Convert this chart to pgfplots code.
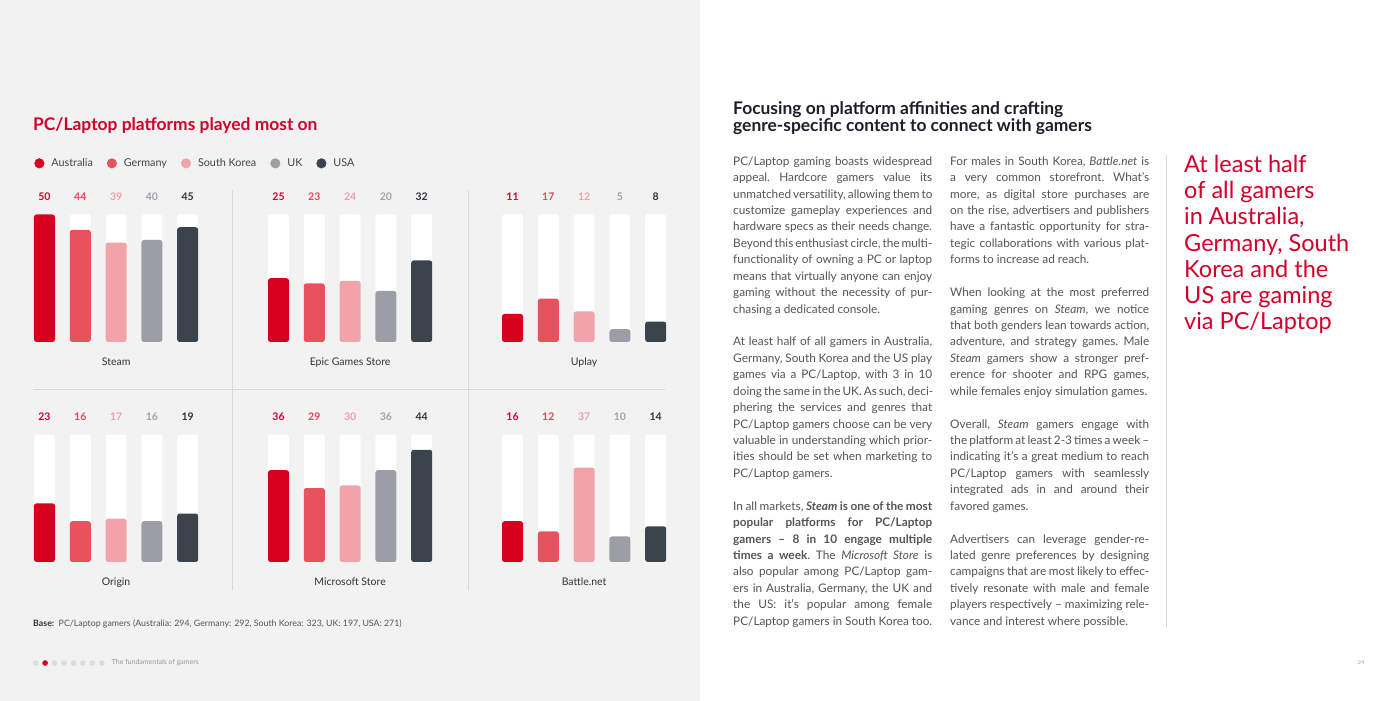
\documentclass[border=0pt]{standalone}
\usepackage{fontspec}
\setmainfont{Lato}
\usepackage{pgfplots}
\pgfplotsset{compat=1.18}
\usepackage{pgfplotstable}

\definecolor{pagebg}{HTML}{F2F2F2}
\definecolor{titlered}{HTML}{D2002B}
\definecolor{aus}{HTML}{D7001F}
\definecolor{ger}{HTML}{E8525F}
\definecolor{sk}{HTML}{F2A2A9}
\definecolor{uk}{HTML}{9B9EA4}
\definecolor{usa}{HTML}{3B444D}
\definecolor{ausL}{HTML}{D2002B}
\definecolor{gerL}{HTML}{E0485A}
\definecolor{skL}{HTML}{F0A0A8}
\definecolor{ukL}{HTML}{A0A3A8}
\definecolor{usaL}{HTML}{2E353D}
\definecolor{body}{HTML}{555555}
\definecolor{head}{HTML}{1E1E2A}
\definecolor{rule}{HTML}{D9D9D9}
\definecolor{labgray}{HTML}{333333}
\definecolor{leggray}{HTML}{444444}
\definecolor{dotgray}{HTML}{DCDCDC}

% share of PC/Laptop gamers (%), top row: Steam, Epic Games Store, Uplay
\pgfplotstableread{
x Aus Ger SK UK USA
0 50 44 39 40 45
1 25 23 24 20 32
2 11 17 12 5 8
}\toprow
% bottom row: Origin, Microsoft Store, Battle.net
\pgfplotstableread{
x Aus Ger SK UK USA
0 23 16 17 16 19
1 36 29 30 36 44
2 16 12 37 10 14
}\botrow

\newcommand\bodyfont{\fontsize{11.8}{14}\selectfont\frenchspacing}
\newcommand\valfont{\fontsize{10.5}{12}\selectfont\bfseries}
\newcommand\BJ[3]{\node[anchor=base west,inner sep=0pt,font=\bodyfont,text=body] at (#1,{535.8-#2*16.43}) {\makebox[199pt][s]{#3}};}
\newcommand\BL[3]{\node[anchor=base west,inner sep=0pt,font=\bodyfont,text=body] at (#1,{535.8-#2*16.43}) {#3};}

\newcommand\cbars[4]{%
 \addplot[ybar, bar width=21pt, bar shift=#3, fill=white, draw=none, rounded corners=2.5pt, forget plot,
   nodes near coords, point meta=explicit,
   nodes near coords style={font=\valfont, text=#4L, anchor=center, xshift=#3, yshift=17.5pt}]
   table[x=x, y expr=50, meta=#2] {#1};
 \addplot[ybar, bar width=21pt, bar shift=#3, fill=#4, draw=none, rounded corners=2.5pt, forget plot]
   table[x=x, y=#2] {#1};
}

\pgfplotsset{rowaxis/.style={
  scale only axis, width=702pt, height=127.5pt,
  xmin=-0.5, xmax=2.5, ymin=0, ymax=50, enlargelimits=false, clip=false,
  axis line style={draw=none}, major tick style={draw=none}, ytick=\empty,
  xtick={0,1,2},
  xticklabel style={font=\fontsize{10.5}{12}\selectfont, text=labgray, anchor=base, yshift=-23.3pt},
  /pgf/number format/assume math mode=true,
  anchor=south west}}

\begin{document}
\begin{tikzpicture}[x=1pt,y=1pt]
\useasboundingbox (0,0) rectangle (1400,701);
\fill[pagebg] (0,0) rectangle (700,701);
\fill[white] (700,0) rectangle (1400,701);

% dividers left page
\draw[rule, line width=0.8pt] (232,{701-190}) -- (232,{701-590});
\draw[rule, line width=0.8pt] (468,{701-190}) -- (468,{701-590});
\draw[rule, line width=0.8pt] (33,{701-389}) -- (665,{701-389});

% title
\node[anchor=base west, inner sep=0pt, text=titlered, font=\fontsize{17.4}{20}\selectfont\bfseries] at (33,{701-131}) {PC/Laptop platforms played most on};

% top row
\begin{axis}[rowaxis, at={(-0.9pt,359pt)}, xticklabels={Steam,Epic Games Store,Uplay},
  legend columns=5,
  legend style={at={(0.05,1.401)}, anchor=west, draw=none, fill=none, inner sep=0pt,
    font=\fontsize{10.8}{13}\selectfont, text=leggray, nodes={inner sep=0pt},
    /tikz/every odd column/.append style={column sep=7pt},
    /tikz/every even column/.append style={column sep=14pt}},
  legend cell align=left]
\addlegendimage{legend image code/.code={\fill[aus] (0pt,0pt) circle (4.8pt);}}
\addlegendentry{Australia}
\addlegendimage{legend image code/.code={\fill[ger] (0pt,0pt) circle (4.8pt);}}
\addlegendentry{Germany}
\addlegendimage{legend image code/.code={\fill[sk] (0pt,0pt) circle (4.8pt);}}
\addlegendentry{South Korea}
\addlegendimage{legend image code/.code={\fill[uk] (0pt,0pt) circle (4.8pt);}}
\addlegendentry{UK}
\addlegendimage{legend image code/.code={\fill[usa] (0pt,0pt) circle (4.8pt);}}
\addlegendentry{USA}
\cbars{\toprow}{Aus}{-71.6pt}{aus}
\cbars{\toprow}{Ger}{-35.8pt}{ger}
\cbars{\toprow}{SK}{0pt}{sk}
\cbars{\toprow}{UK}{35.8pt}{uk}
\cbars{\toprow}{USA}{71.6pt}{usa}
\end{axis}

% bottom row
\begin{axis}[rowaxis, at={(-0.9pt,139pt)}, xticklabels={Origin,Microsoft Store,Battle.net}]
\cbars{\botrow}{Aus}{-71.6pt}{aus}
\cbars{\botrow}{Ger}{-35.8pt}{ger}
\cbars{\botrow}{SK}{0pt}{sk}
\cbars{\botrow}{UK}{35.8pt}{uk}
\cbars{\botrow}{USA}{71.6pt}{usa}
\end{axis}

% footer left
\node[anchor=base west, inner sep=0pt, text=body, font=\fontsize{8.8}{10}\selectfont] at (33,{701-627}) {\textcolor{labgray}{\textbf{Base:}}\ \ PC/Laptop gamers (Australia: 294, Germany: 292, South Korea: 323, UK: 197, USA: 271)};
\foreach \i in {0,...,7} {\fill[dotgray] ({35.7+\i*9.44},{701-663}) circle (2.8pt);}
\fill[titlered] ({35.7+9.44},{701-663}) circle (2.8pt);
\node[anchor=west, inner sep=0pt, text=gray!80, font=\fontsize{7}{8}\selectfont] at (111.6,{701-663}) {The fundamentals of gamers};

% right page
\node[anchor=base west, inner sep=0pt, text=head, font=\fontsize{17.4}{20}\selectfont\bfseries] at (733,{701-115}) {Focusing on platform affinities and crafting};
\node[anchor=base west, inner sep=0pt, text=head, font=\fontsize{17.4}{20}\selectfont\bfseries] at (733,{701-132}) {genre-specific content to connect with gamers};

\BJ{733}{0}{PC/Laptop gaming boasts widespread}
\BJ{733}{1}{appeal. Hardcore gamers value its}
\BJ{733}{2}{unmatched versatility, allowing them to}
\BJ{733}{3}{customize gameplay experiences and}
\BJ{733}{4}{hardware specs as their needs change.}
\BJ{733}{5}{Beyond this enthusiast circle, the multi-}
\BJ{733}{6}{functionality of owning a PC or laptop}
\BJ{733}{7}{means that virtually anyone can enjoy}
\BJ{733}{8}{gaming without the necessity of pur-}
\BL{733}{9}{chasing a dedicated console.}
\BJ{733}{11}{At least half of all gamers in Australia,}
\BJ{733}{12}{Germany, South Korea and the US play}
\BJ{733}{13}{games via a PC/Laptop, with 3 in 10}
\BJ{733}{14}{doing the same in the UK. As such, deci-}
\BJ{733}{15}{phering the services and genres that}
\BJ{733}{16}{PC/Laptop gamers choose can be very}
\BJ{733}{17}{valuable in understanding which prior-}
\BJ{733}{18}{ities should be set when marketing to}
\BL{733}{19}{PC/Laptop gamers.}
\BJ{733}{21}{In all markets, \textbf{\textit{Steam} is one of the most}}
\BJ{733}{22}{\textbf{popular platforms for PC/Laptop}}
\BJ{733}{23}{\textbf{gamers – 8 in 10 engage multiple}}
\BJ{733}{24}{\textbf{times a week}. The \textit{Microsoft Store} is}
\BJ{733}{25}{also popular among PC/Laptop gam-}
\BJ{733}{26}{ers in Australia, Germany, the UK and}
\BJ{733}{27}{the US: it’s popular among female}
\BJ{733}{28}{PC/Laptop gamers in South Korea too.}

\BJ{950}{0}{For males in South Korea, \textit{Battle.net} is}
\BJ{950}{1}{a very common storefront. What’s}
\BJ{950}{2}{more, as digital store purchases are}
\BJ{950}{3}{on the rise, advertisers and publishers}
\BJ{950}{4}{have a fantastic opportunity for stra-}
\BJ{950}{5}{tegic collaborations with various plat-}
\BL{950}{6}{forms to increase ad reach.}
\BJ{950}{8}{When looking at the most preferred}
\BJ{950}{9}{gaming genres on \textit{Steam}, we notice}
\BJ{950}{10}{that both genders lean towards action,}
\BJ{950}{11}{adventure, and strategy games. Male}
\BJ{950}{12}{\textit{Steam} gamers show a stronger pref-}
\BJ{950}{13}{erence for shooter and RPG games,}
\BL{950}{14}{while females enjoy simulation games.}
\BJ{950}{16}{Overall, \textit{Steam} gamers engage with}
\BJ{950}{17}{the platform at least 2-3 times a week –}
\BJ{950}{18}{indicating it’s a great medium to reach}
\BJ{950}{19}{PC/Laptop gamers with seamlessly}
\BJ{950}{20}{integrated ads in and around their}
\BL{950}{21}{favored games.}
\BJ{950}{23}{Advertisers can leverage gender-re-}
\BJ{950}{24}{lated genre preferences by designing}
\BJ{950}{25}{campaigns that are most likely to effec-}
\BJ{950}{26}{tively resonate with male and female}
\BJ{950}{27}{players respectively – maximizing rele-}
\BL{950}{28}{vance and interest where possible.}

\draw[rule, line width=0.8pt] (1166.5,{701-155}) -- (1166.5,{701-627});

\foreach \t [count=\n from 0] in {At least half,of all gamers,{in Australia,},{Germany, South},Korea and the,US are gaming,via PC/Laptop}
  {\node[anchor=base west, inner sep=0pt, text=titlered, font=\fontsize{23.5}{27}\selectfont] at (1184,{701-172.5-\n*26.2}) {\t};}

\node[anchor=center, inner sep=0pt, text=gray!70, font=\fontsize{5.5}{7}\selectfont] at (1361,{701-663}) {24};
\end{tikzpicture}
\end{document}
